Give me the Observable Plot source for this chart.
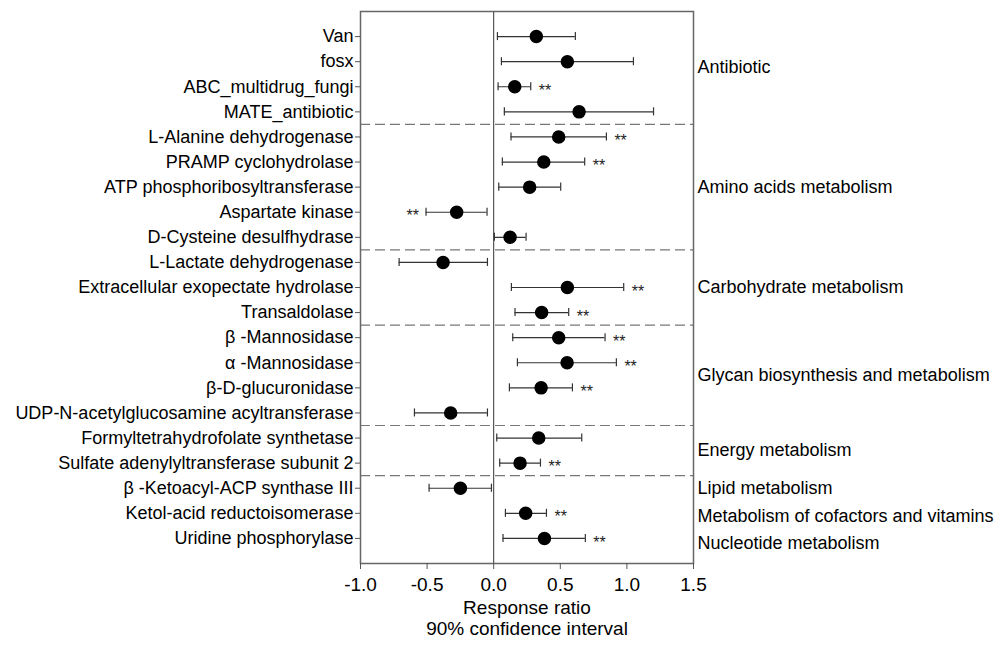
<!DOCTYPE html>
<html>
<head>
<meta charset="utf-8">
<script src="https://cdn.jsdelivr.net/npm/d3@7"></script>
<script src="https://cdn.jsdelivr.net/npm/@observablehq/plot@0.6"></script>
<style>
  html, body { margin: 0; padding: 0; background: #fff; }
  #chart svg { display: block; }
</style>
</head>
<body>
<div id="chart"></div>
<script>
const names = [
  "Van", "fosx", "ABC_multidrug_fungi", "MATE_antibiotic",
  "L-Alanine dehydrogenase", "PRAMP cyclohydrolase", "ATP phosphoribosyltransferase", "Aspartate kinase", "D-Cysteine desulfhydrase",
  "L-Lactate dehydrogenase", "Extracellular exopectate hydrolase", "Transaldolase",
  "β -Mannosidase", "α -Mannosidase", "β-D-glucuronidase", "UDP-N-acetylglucosamine acyltransferase",
  "Formyltetrahydrofolate synthetase", "Sulfate adenylyltransferase subunit 2",
  "β -Ketoacyl-ACP synthase III",
  "Ketol-acid reductoisomerase",
  "Uridine phosphorylase"
];
const means = [0.32, 0.553, 0.158, 0.641, 0.488, 0.376, 0.27, -0.278, 0.123, -0.38, 0.553, 0.36, 0.488, 0.551, 0.356, -0.323, 0.338, 0.198, -0.25, 0.24, 0.381];
const lows  = [0.028, 0.058, 0.033, 0.08, 0.13, 0.065, 0.038, -0.508, 0.005, -0.71, 0.133, 0.16, 0.143, 0.178, 0.118, -0.595, 0.023, 0.045, -0.485, 0.088, 0.07];
const highs = [0.613, 1.049, 0.278, 1.20, 0.846, 0.683, 0.503, -0.05, 0.243, -0.047, 0.976, 0.563, 0.836, 0.921, 0.591, -0.047, 0.661, 0.351, -0.017, 0.396, 0.688];
const signif = [false, false, true, false, true, true, false, true, false, false, true, true, true, true, true, false, false, true, false, true, true];

const groupNames = ["Antibiotic", "Amino acids metabolism", "Carbohydrate metabolism", "Glycan biosynthesis and metabolism",
  "Energy metabolism", "Lipid metabolism", "Metabolism of cofactors and vitamins", "Nucleotide metabolism"];
const groupSizes = [4, 5, 3, 4, 2, 1, 1, 1];
const dividerAfter = ["Antibiotic", "Amino acids metabolism", "Carbohydrate metabolism", "Glycan biosynthesis and metabolism", "Energy metabolism"];
const xTicks = [-1.0, -0.5, 0.0, 0.5, 1.0, 1.5];

const rows = names.map((name, i) => ({i, name, mean: means[i], lo: lows[i], hi: highs[i], sig: signif[i]}));

let start = 0;
const groups = groupNames.map((g, k) => {
  const first = start, last = start + groupSizes[k] - 1;
  start += groupSizes[k];
  return {name: g, first, last, mid: (first + last) / 2};
});
const dividers = groups.filter(g => dividerAfter.includes(g.name)).map(g => g.last + 0.5);
const labelDy = {"Antibiotic": -7, "Metabolism of cofactors and vitamins": 3, "Nucleotide metabolism": 5};

const font = "'Liberation Sans', Arial, Helvetica, sans-serif";
const ink = "#000";

const chart = Plot.plot({
  width: 1005,
  height: 651,
  marginLeft: 360,
  marginRight: 312,
  marginTop: 11,
  marginBottom: 88,
  style: {fontFamily: font, background: "#fff", color: ink},
  x: {domain: [-1, 1.5]},
  y: {domain: [-1, names.length], reverse: true},
  marks: [
    Plot.ruleY(dividers, {y: d => d, stroke: "#777", strokeWidth: 1.2, strokeDasharray: "10,5"}),
    Plot.ruleX([0], {stroke: "#333", strokeWidth: 1}),
    Plot.frame({stroke: "#666", strokeWidth: 1.5}),
    Plot.axisX({ticks: xTicks, tickFormat: d => d.toFixed(1), tickSize: 6, tickPadding: 8, fontSize: 19, stroke: "#555", fill: ink, label: null}),
    Plot.axisY({ticks: d3.range(names.length), tickFormat: i => names[i], tickSize: 5, tickPadding: 2, fontSize: 18, stroke: "#555", fill: ink, label: null}),
    Plot.ruleY(rows, {y: "i", x1: "lo", x2: "hi", stroke: "#333", strokeWidth: 1.2}),
    Plot.ruleX(rows, {x: "lo", y1: d => d.i - 0.16, y2: d => d.i + 0.16, stroke: "#333", strokeWidth: 1.2}),
    Plot.ruleX(rows, {x: "hi", y1: d => d.i - 0.16, y2: d => d.i + 0.16, stroke: "#333", strokeWidth: 1.2}),
    Plot.dot(rows, {x: "mean", y: "i", r: 6, fill: "#000", stroke: "#000"}),
    Plot.text(rows.filter(d => d.sig && d.mean > 0), {x: "hi", y: "i", text: () => "**", textAnchor: "start", dx: 8, dy: 4, fontSize: 16, fill: "#222"}),
    Plot.text(rows.filter(d => d.sig && d.mean < 0), {x: "lo", y: "i", text: () => "**", textAnchor: "end", dx: -7, dy: 4, fontSize: 16, fill: "#222"}),
    ...groups.map(g => Plot.text([g], {y: "mid", frameAnchor: "right", text: "name", textAnchor: "start", dx: 4, dy: labelDy[g.name] || 0, fontSize: 18, fill: ink})),
    Plot.text(["Response ratio\n90% confidence interval"], {frameAnchor: "bottom", lineAnchor: "top", dy: 36, lineHeight: 1.08, fontSize: 19, fill: ink})
  ]
});

document.getElementById("chart").appendChild(chart);
</script>
</body>
</html>
